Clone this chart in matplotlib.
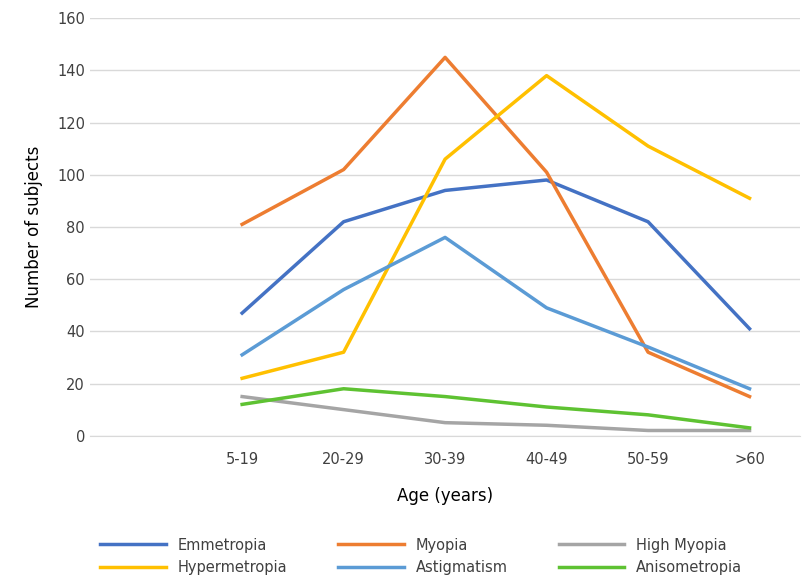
import matplotlib
matplotlib.use("Agg")
import matplotlib.pyplot as plt

ages = ["", "5-19", "20-29", "30-39", "40-49", "50-59", ">60"]
emmetropia = [47, 82, 94, 98, 82, 41]
myopia = [81, 102, 145, 101, 32, 15]
high_myopia = [15, 10, 5, 4, 2, 2]
hypermetropia = [22, 32, 106, 138, 111, 91]
astigmatism = [31, 56, 76, 49, 34, 18]
anisometropia = [12, 18, 15, 11, 8, 3]

series = [
    ("Emmetropia", emmetropia, "#4472C4"),
    ("Myopia", myopia, "#ED7D31"),
    ("High Myopia", high_myopia, "#A5A5A5"),
    ("Hypermetropia", hypermetropia, "#FFC000"),
    ("Astigmatism", astigmatism, "#5B9BD5"),
    ("Anisometropia", anisometropia, "#5EC232"),
]

fig = plt.figure(figsize=(8.1, 5.88), dpi=100)
ax = fig.add_axes([0.111, 0.259, 0.877, 0.71])
x = list(range(1, len(ages)))
lines = []
for name, vals, col in series:
    ln, = ax.plot(x, vals, color=col, linewidth=2.5, label=name)
    lines.append(ln)

ax.set_xlim(-0.5, len(ages) - 0.5)
ax.set_xticks(range(len(ages)))
ax.set_xticklabels(ages, fontsize=10.5)
ax.set_ylim(0, 160)
ax.set_yticks(range(0, 161, 20))
ax.tick_params(axis="y", labelsize=10.5, length=0, colors="#404040")
ax.tick_params(axis="x", length=0, pad=12, colors="#404040")
ax.grid(axis="y", color="#D9D9D9", linewidth=1)
ax.set_axisbelow(True)
for s in ["top", "right", "left"]:
    ax.spines[s].set_visible(False)
ax.spines["bottom"].set_color("#D9D9D9")
ax.set_xlabel("Age (years)", fontsize=12, labelpad=14)
ax.set_ylabel("Number of subjects", fontsize=12, labelpad=10)

# matplotlib fills legend columns first; reorder so rows read like the original
order = [0, 3, 1, 4, 2, 5]
fig.legend([lines[i] for i in order], [series[i][0] for i in order],
           loc="lower center", bbox_to_anchor=(0.52, 0.0), ncol=3, frameon=False,
           fontsize=10.5, handlelength=4.5, columnspacing=3.5, labelcolor="#404040")
fig.savefig("out.png")
